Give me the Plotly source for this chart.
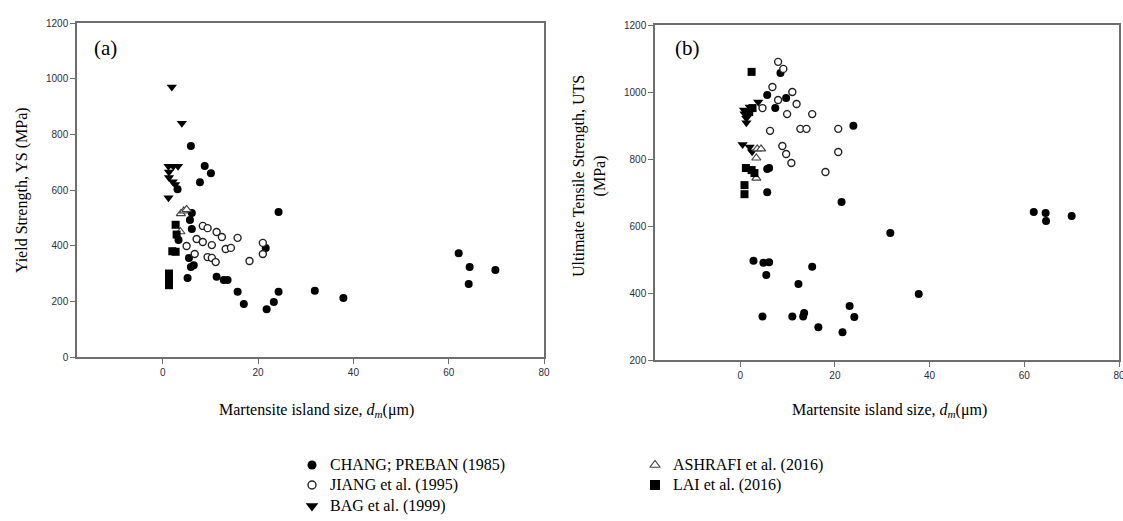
import plotly.graph_objects as go

# ---- data: yield strength (a) and UTS (b) vs martensite island size ----
chang_ys_x = [5.9, 8.8, 10.1, 7.8, 3.1, 6.1, 5.7, 6.1, 24.3, 5.5, 6.5, 5.9, 5.2, 11.3, 12.8,
              13.6, 15.7, 17.0, 21.8, 23.3, 24.3, 21.6, 31.9, 37.9, 62.1, 64.4, 64.2, 69.8, 3.3]
chang_ys_y = [758, 686, 660, 628, 603, 517, 492, 460, 521, 356, 330, 323, 284, 288, 277,
              277, 234, 190, 172, 198, 234, 392, 238, 212, 373, 323, 262, 313, 420]
jiang_ys_x = [8.4, 9.4, 11.3, 12.4, 15.7, 7.1, 8.4, 10.3, 5.0, 13.2, 14.3, 21.0, 21.0,
              6.7, 9.4, 10.3, 11.1, 18.2]
jiang_ys_y = [471, 463, 449, 431, 428, 424, 413, 402, 399, 388, 392, 410, 370,
              370, 359, 356, 341, 345]
bag_ys_x = [1.9, 4.0, 1.2, 2.2, 3.2, 1.3, 1.3, 2.1, 2.6, 1.2]
bag_ys_y = [970, 840, 685, 685, 685, 665, 645, 630, 620, 572]
ashrafi_ys_x = [3.8, 4.4, 5.0, 3.7]
ashrafi_ys_y = [515, 525, 530, 450]
lai_ys_x = [2.7, 2.9, 2.0, 2.7, 1.3, 1.3, 1.3, 1.3]
lai_ys_y = [475, 440, 380, 378, 300, 285, 270, 258]

chang_uts_x = [8.5, 5.7, 9.7, 7.4, 23.9, 5.7, 6.1, 5.7, 21.4, 2.8, 4.9, 6.1, 5.5, 15.2, 12.3,
               4.7, 11.0, 13.5, 13.3, 16.5, 21.6, 23.1, 24.1, 31.7, 37.7, 62.0, 64.5, 64.6, 70.0]
chang_uts_y = [1057, 991, 982, 952, 899, 770, 773, 701, 672, 496, 490, 492, 454, 478, 427,
               330, 330, 340, 330, 298, 283, 361, 328, 579, 397, 642, 639, 615, 630]
jiang_uts_x = [8.0, 9.1, 6.8, 11.0, 8.0, 4.7, 11.9, 9.9, 15.2, 6.3, 12.7, 14.0, 20.7,
               8.9, 20.7, 9.7, 10.8, 18.0]
jiang_uts_y = [1090, 1069, 1015, 1000, 976, 952, 964, 934, 934, 884, 890, 890, 890,
               839, 821, 815, 788, 761]
bag_uts_x = [3.8, 2.0, 0.8, 0.9, 1.3, 1.3, 0.5, 2.0, 2.5]
bag_uts_y = [970, 955, 946, 935, 922, 908, 843, 836, 822]
ashrafi_uts_x = [3.6, 4.4, 3.4, 3.4]
ashrafi_uts_y = [830, 830, 803, 743]
lai_uts_x = [2.4, 2.6, 1.9, 1.2, 2.4, 3.0, 0.9, 0.9]
lai_uts_y = [1060, 952, 940, 773, 767, 758, 722, 695]

series_names = ["CHANG; PREBAN (1985)", "JIANG et al. (1995)", "BAG et al. (1999)",
                "ASHRAFI et al. (2016)", "LAI et al. (2016)"]
x_ticks = [0, 20, 40, 60, 80]
ys_ticks = [0, 200, 400, 600, 800, 1000, 1200]
uts_ticks = [200, 400, 600, 800, 1000, 1200]

W, H = 1123, 521
SERIF = "Liberation Serif, Times New Roman, serif"

styles = [
    dict(symbol="circle", size=8, color="black", line=dict(color="black", width=0)),
    dict(symbol="circle", size=7, color="white", line=dict(color="#222", width=1.4)),
    dict(symbol="triangle-down", size=9, color="black", line=dict(color="black", width=0)),
    dict(symbol="triangle-up", size=8, color="white", line=dict(color="#444", width=1.2)),
    dict(symbol="square", size=8, color="black", line=dict(color="black", width=0)),
]

ys_data = [(chang_ys_x, chang_ys_y), (jiang_ys_x, jiang_ys_y), (bag_ys_x, bag_ys_y),
           (ashrafi_ys_x, ashrafi_ys_y), (lai_ys_x, lai_ys_y)]
uts_data = [(chang_uts_x, chang_uts_y), (jiang_uts_x, jiang_uts_y), (bag_uts_x, bag_uts_y),
            (ashrafi_uts_x, ashrafi_uts_y), (lai_uts_x, lai_uts_y)]

fig = go.Figure()
for i, name in enumerate(series_names):
    fig.add_trace(go.Scatter(x=ys_data[i][0], y=ys_data[i][1], mode="markers", name=name,
                             marker=styles[i], xaxis="x", yaxis="y", showlegend=False))
for i, name in enumerate(series_names):
    fig.add_trace(go.Scatter(x=uts_data[i][0], y=uts_data[i][1], mode="markers", name=name,
                             marker=styles[i], xaxis="x2", yaxis="y2", showlegend=False))

# legend block below the panels: key symbol + label, placed in page pixels
key_px = [(312, 465), (312, 485), (312, 506), (655, 465), (655, 485)]
label_dx = 16
key_sizes = [9, 8, 11, 9, 10]
for i, name in enumerate(series_names):
    m = dict(styles[i])
    m["size"] = key_sizes[i]
    fig.add_trace(go.Scatter(x=[key_px[i][0]], y=[key_px[i][1]], mode="markers",
                             marker=m, xaxis="x3", yaxis="y3", showlegend=False,
                             hoverinfo="skip", name=name))

def px_x(p):
    return p / W

def px_y(p):
    return 1 - p / H

axis_common = dict(showline=True, linecolor="#6e6e6e", linewidth=1.5, mirror=True,
                   ticks="outside", ticklen=5, tickcolor="#6e6e6e", tickwidth=1,
                   showgrid=False, zeroline=False, ticklabeloverflow="allow",
                   tickfont=dict(family="Liberation Sans Narrow, Liberation Sans, Arial",
                                 size=10, color="#2d2d3d"))

fig.update_layout(
    width=W, height=H,
    margin=dict(l=0, r=0, t=0, b=0, autoexpand=False),
    paper_bgcolor="white", plot_bgcolor="rgba(0,0,0,0)",
    showlegend=False,
    xaxis=dict(domain=[px_x(77), px_x(544)], range=[-18, 80], tickvals=x_ticks,
               anchor="y", **axis_common),
    yaxis=dict(domain=[px_y(357), px_y(23)], range=[0, 1200], tickvals=ys_ticks,
               anchor="x", **axis_common),
    xaxis2=dict(domain=[px_x(655), px_x(1119)], range=[-18, 80], tickvals=x_ticks,
                anchor="y2", **axis_common),
    yaxis2=dict(domain=[px_y(360), px_y(25)], range=[200, 1200], tickvals=uts_ticks,
                anchor="x2", **axis_common),
    xaxis3=dict(domain=[0, 1], range=[0, W], visible=False, anchor="y3", fixedrange=True),
    yaxis3=dict(domain=[0, 1], range=[H, 0], visible=False, anchor="x3", fixedrange=True),
)

title_font = dict(family=SERIF, size=16, color="black")
annotations = [
    dict(text="(a)", x=px_x(92), y=px_y(48), xanchor="left", yanchor="middle",
         font=dict(family=SERIF, size=21, color="black")),
    dict(text="(b)", x=px_x(673), y=px_y(48), xanchor="left", yanchor="middle",
         font=dict(family=SERIF, size=21, color="black")),
    dict(text="Yield Strength, YS (MPa)", x=px_x(22), y=px_y(190), textangle=-90,
         xanchor="center", yanchor="middle", font=title_font),
    dict(text="Ultimate Tensile Strength, UTS<br>(MPa)", x=px_x(589), y=px_y(176),
         textangle=-90, xanchor="center", yanchor="middle", align="center", font=title_font),
    dict(text="Martensite island size, <i>d</i><sub><i>m</i></sub>(μm)", x=px_x(316),
         y=px_y(410), xanchor="center", yanchor="middle", font=title_font),
    dict(text="Martensite island size, <i>d</i><sub><i>m</i></sub>(μm)", x=px_x(889),
         y=px_y(410), xanchor="center", yanchor="middle", font=title_font),
]
for i, name in enumerate(series_names):
    annotations.append(dict(text=name, x=px_x(key_px[i][0] + label_dx),
                            y=px_y(key_px[i][1]), xanchor="left", yanchor="middle",
                            font=dict(family=SERIF, size=16, color="black")))
for a in annotations:
    a.update(xref="paper", yref="paper", showarrow=False)
fig.update_layout(annotations=annotations)

fig.write_html("out.html")
